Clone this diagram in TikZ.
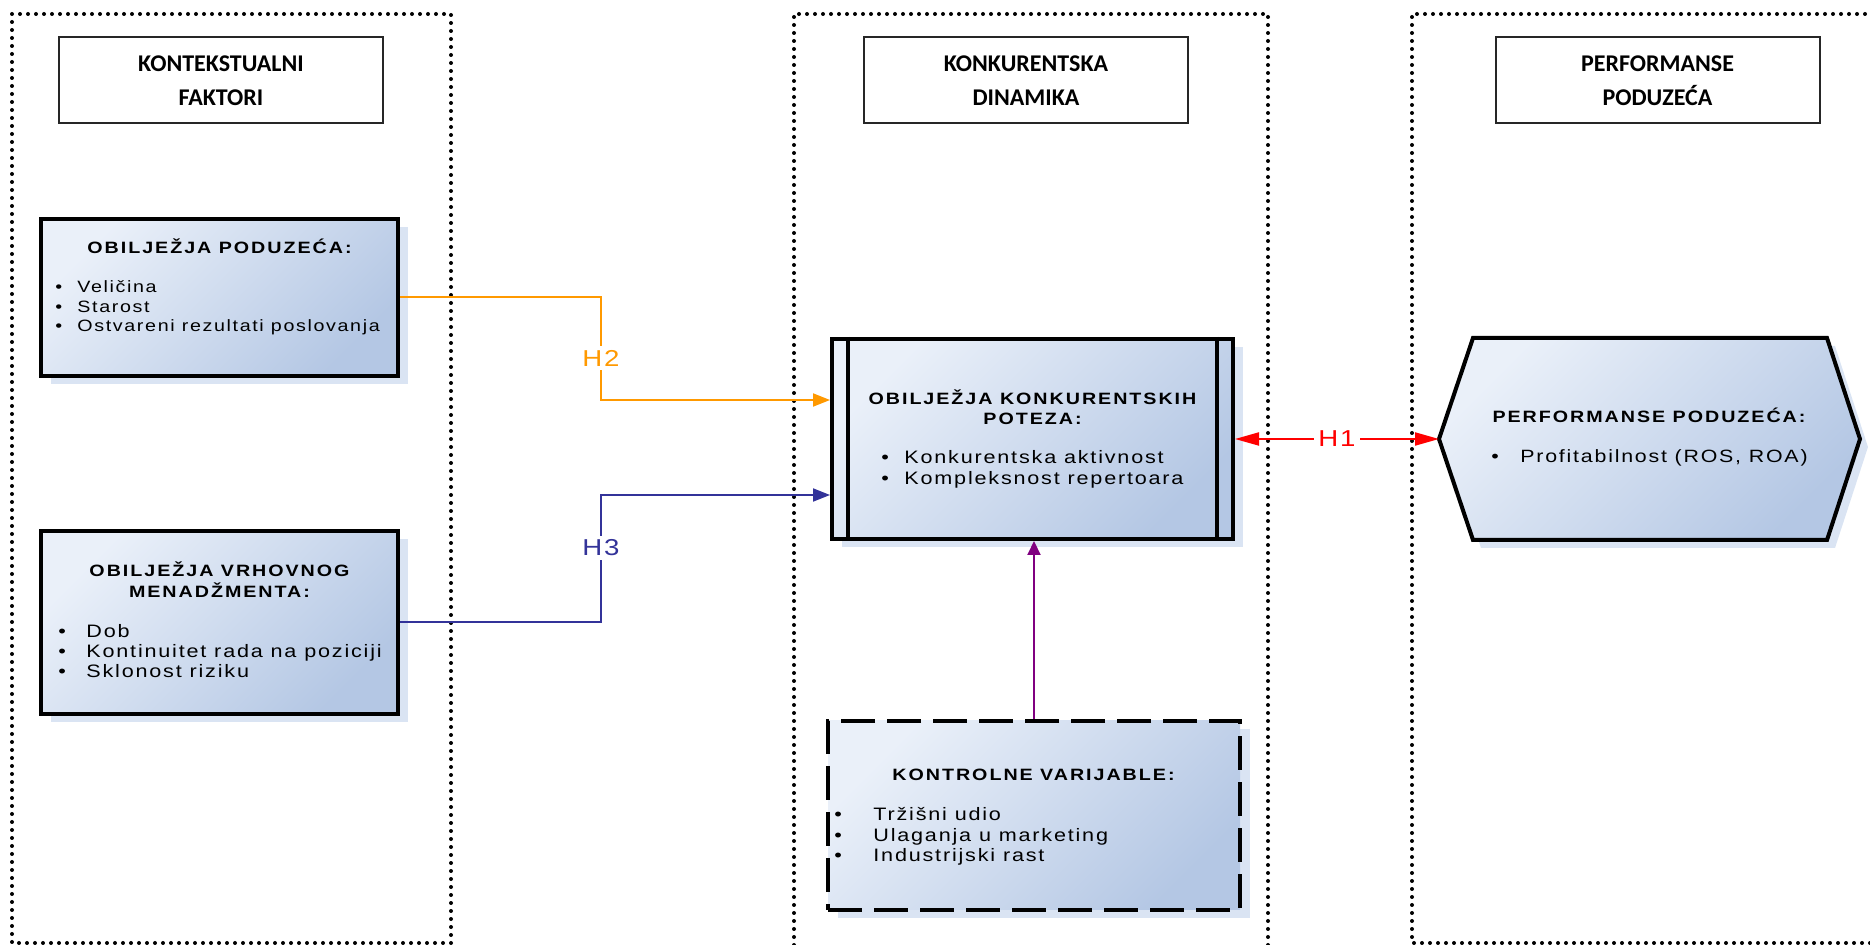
\documentclass[tikz,border=0pt]{standalone}
\usepackage{fontspec}
\setmainfont{Liberation Sans}
\newfontfamily\hdrfont{Carlito}
\newfontfamily\bodyfont{Liberation Sans}[FakeStretch=1.2, LetterSpace=10]
\newfontfamily\headfont{Liberation Sans}[FakeStretch=1.2, LetterSpace=12]
\newfontfamily\lblfont{Liberation Sans}[FakeStretch=1.2, LetterSpace=8]
\usetikzlibrary{arrows.meta,calc,shadows}
\definecolor{cL}{RGB}{234,240,249}
\definecolor{cD}{RGB}{180,199,228}
\definecolor{shd}{RGB}{218,228,243}
\definecolor{corange}{RGB}{255,153,0}
\definecolor{cblue}{RGB}{51,51,153}
\definecolor{cpurple}{RGB}{128,0,128}
\definecolor{cred}{RGB}{255,0,0}
\newcommand\bul[1]{\makebox[#1][l]{•}}
\begin{document}
\begin{tikzpicture}[x=0.5pt,y=-0.5pt,
  frame/.style={line width=2pt, dash pattern=on 0pt off 4pt, line cap=round},
  hdr/.style={draw=black!85, line width=1pt, fill=white, align=center, inner sep=0pt,
    minimum width=162pt, minimum height=43pt,
    font=\hdrfont\bfseries\fontsize{12}{17}\selectfont},
  fillbox/.style={draw=black, line width=2pt, top color=cL, bottom color=cD, shading angle=45,
    inner sep=0pt, general shadow={shadow xshift=5pt, shadow yshift=-4pt, fill=shd}},
  hd/.style={inner sep=0pt, font=\headfont\bfseries\fontsize{8.2}{10}\selectfont},
  bl/.style 2 args={inner sep=0pt, font=\bodyfont\fontsize{#1}{#2}\selectfont},
  lbl/.style={fill=white, inner sep=2pt, font=\lblfont\fontsize{11.5}{13}\selectfont},
  conn/.style={line width=1pt}
]
\useasboundingbox (0,0) rectangle (1870,945);

% frames
\draw[frame] (12,14) rectangle (451,943);
\draw[frame] (794,945) -- (794,14) -- (1268,14) -- (1268,945);
\draw[frame] (1870,943) -- (1412,943) -- (1412,14) -- (1870,14);

% headers
\node[hdr] (h1) at (221,80.5) {KONTEKSTUALNI\\FAKTORI};
\node[hdr] (h2) at (1026,80.5) {KONKURENTSKA\\DINAMIKA};
\node[hdr] (h3) at (1657.5,80.5) {PERFORMANSE\\PODUZEĆA};

% box 1
\node[fillbox, minimum width=178.5pt, minimum height=78.5pt] (b1) at (219.5,297.5) {};
\node[hd, anchor=base] (t1) at (219.5,254) {OBILJEŽJA PODUZEĆA:};
\node[bl={8.2}{9.75}, anchor=base west] (l1) at (55,293) {\begin{tabular}[t]{@{}l@{}}\bul{11pt}Veličina\\\bul{11pt}Starost\\\bul{11pt}Ostvareni rezultati poslovanja\end{tabular}};

% box 2
\node[fillbox, minimum width=178.5pt, minimum height=91.5pt] (b2) at (219.5,622.5) {};
\node[hd, anchor=base] (t2) at (219.5,577) {\begin{tabular}[t]{@{}c@{}}OBILJEŽJA VRHOVNOG\\MENADŽMENTA:\end{tabular}};
\node[bl={9}{10}, anchor=base west] (l2) at (58,638) {\begin{tabular}[t]{@{}l@{}}\bul{14pt}Dob\\\bul{14pt}Kontinuitet rada na poziciji\\\bul{14pt}Sklonost riziku\end{tabular}};

% centre box
\node[fillbox, minimum width=200.5pt, minimum height=100pt] (cb) at (1032.5,439) {};
\draw[line width=2pt] ($(cb.north west)+(18,0)$) -- ($(cb.south west)+(18,0)$);
\draw[line width=2pt] ($(cb.north east)+(-18,0)$) -- ($(cb.south east)+(-18,0)$);
\node[hd, anchor=base] (t3) at (1032.5,405) {\begin{tabular}[t]{@{}c@{}}OBILJEŽJA KONKURENTSKIH\\POTEZA:\end{tabular}};
\node[bl={9}{10.5}, anchor=base west] (l3) at (881,464) {\begin{tabular}[t]{@{}l@{}}\bul{11.5pt}Konkurentska aktivnost\\\bul{11.5pt}Kompleksnost repertoara\end{tabular}};

% dashed box
\node[fillbox, dash pattern=on 17pt off 6pt, minimum width=206pt, minimum height=94.5pt] (db) at (1034,815.5) {};
\node[hd, anchor=base] (t4) at (1033.5,781) {KONTROLNE VARIJABLE:};
\node[bl={9}{10.25}, anchor=base west] (l4) at (834,821) {\begin{tabular}[t]{@{}l@{}}\bul{19.5pt}Tržišni udio\\\bul{19.5pt}Ulaganja u marketing\\\bul{19.5pt}Industrijski rast\end{tabular}};

% hexagon
\fill[shd] (1481,346) -- (1835,346) -- (1868,447) -- (1835,548) -- (1481,548) -- (1447,447) -- cycle;
\draw[line width=2pt, line join=miter, top color=cL, bottom color=cD, shading angle=45]
  (1473,338) -- (1827,338) -- (1860,439) -- (1827,540) -- (1473,540) -- (1439,439) -- cycle;
\coordinate (hexW) at (1439,439);
\node[hd, anchor=base] (t5) at (1649,422.5) {PERFORMANSE PODUZEĆA:};
\node[bl={8.9}{10}, anchor=base west] (l5) at (1491,463) {\bul{14.5pt}Profitabilnost (ROS, ROA)};

% connectors
\draw[conn, corange, -{Triangle[length=8.5pt,width=6.5pt]}] (b1.east) -| (601,400) -- ($(cb.west)+(0,-39)$);
\node[lbl, text=corange] (H2) at (601,358) {H2};
\draw[conn, cblue, -{Triangle[length=8.5pt,width=6.5pt]}] (b2.east) -| (601,495) -- ($(cb.west)+(0,56)$);
\node[lbl, text=cblue] (H3) at (601,548) {H3};
\draw[conn, cpurple, -{Triangle[length=7pt,width=6.5pt]}] (db.north) -- (db.north |- cb.south);
\draw[conn, cred, {Triangle[length=12pt,width=6.5pt]}-{Triangle[length=12pt,width=6.5pt]}] (cb.east) -- node[lbl, text=cred] (H1) {H1} (hexW);
\end{tikzpicture}
\end{document}
